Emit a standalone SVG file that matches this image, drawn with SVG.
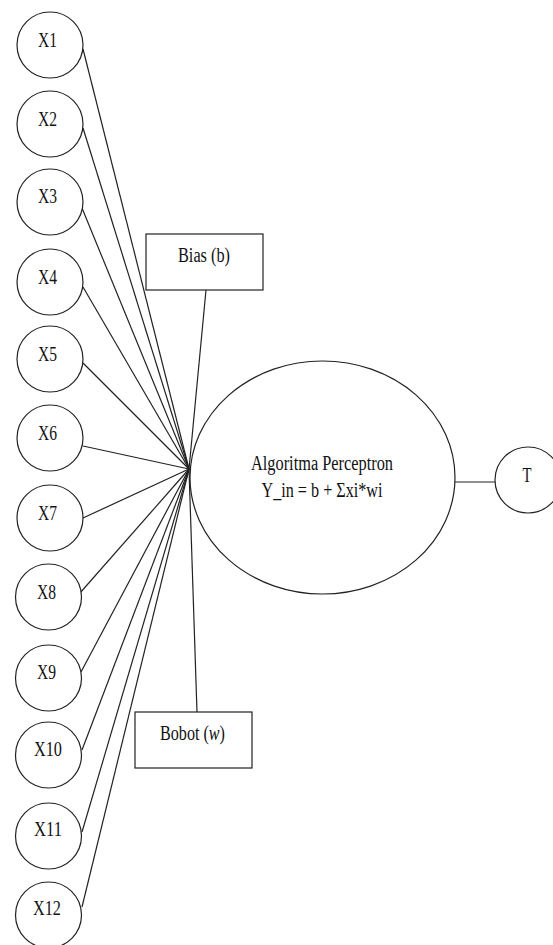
<svg xmlns="http://www.w3.org/2000/svg" width="553" height="945" viewBox="0 0 553 945">
<style>
.n{fill:#fff;stroke:#222;stroke-width:1.2}
.c{stroke:#222;stroke-width:1.2;fill:none}
text{font-family:"Liberation Serif","Times New Roman",serif;font-size:20px;fill:#111;text-anchor:middle}
</style>
<rect width="553" height="945" fill="#fff"/>
<g id="connectors">
<line class="c" x1="83" y1="49" x2="189" y2="469"/>
<line class="c" x1="83" y1="128" x2="189" y2="469"/>
<line class="c" x1="82" y1="208" x2="189" y2="469"/>
<line class="c" x1="83" y1="287" x2="189" y2="469"/>
<line class="c" x1="83" y1="363" x2="189" y2="469"/>
<line class="c" x1="83" y1="446" x2="189" y2="469"/>
<line class="c" x1="83" y1="518" x2="189" y2="469"/>
<line class="c" x1="80" y1="593" x2="189" y2="469"/>
<line class="c" x1="81" y1="672" x2="189" y2="469"/>
<line class="c" x1="82" y1="750" x2="189" y2="469"/>
<line class="c" x1="82" y1="832" x2="189" y2="469"/>
<line class="c" x1="82" y1="907" x2="189" y2="469"/>
<line class="c" x1="206" y1="290" x2="189" y2="469"/>
<line class="c" x1="197" y1="712" x2="189" y2="469"/>
<line class="c" x1="455" y1="482" x2="495" y2="482"/>
</g>
<g id="X1"><circle class="n" cx="50" cy="45" r="33"/><text x="47.5" y="47" textLength="19" lengthAdjust="spacingAndGlyphs">X1</text></g>
<g id="X2"><circle class="n" cx="50" cy="124" r="33"/><text x="47.5" y="126" textLength="19" lengthAdjust="spacingAndGlyphs">X2</text></g>
<g id="X3"><circle class="n" cx="50" cy="202" r="33"/><text x="47.5" y="203" textLength="19" lengthAdjust="spacingAndGlyphs">X3</text></g>
<g id="X4"><circle class="n" cx="50" cy="282" r="33"/><text x="47.5" y="284" textLength="19" lengthAdjust="spacingAndGlyphs">X4</text></g>
<g id="X5"><circle class="n" cx="50" cy="359" r="33"/><text x="47.5" y="361" textLength="19" lengthAdjust="spacingAndGlyphs">X5</text></g>
<g id="X6"><circle class="n" cx="50" cy="438" r="33"/><text x="47.5" y="440" textLength="19" lengthAdjust="spacingAndGlyphs">X6</text></g>
<g id="X7"><circle class="n" cx="50" cy="518" r="33"/><text x="47.5" y="520" textLength="19" lengthAdjust="spacingAndGlyphs">X7</text></g>
<g id="X8"><circle class="n" cx="48.5" cy="597" r="33"/><text x="46.5" y="599" textLength="19" lengthAdjust="spacingAndGlyphs">X8</text></g>
<g id="X9"><circle class="n" cx="48.5" cy="678" r="33"/><text x="46.5" y="679" textLength="19" lengthAdjust="spacingAndGlyphs">X9</text></g>
<g id="X10"><circle class="n" cx="48.5" cy="755" r="33"/><text x="48" y="756" textLength="28" lengthAdjust="spacingAndGlyphs">X10</text></g>
<g id="X11"><circle class="n" cx="48.5" cy="836" r="33"/><text x="48" y="836" textLength="28" lengthAdjust="spacingAndGlyphs">X11</text></g>
<g id="X12"><circle class="n" cx="48.5" cy="915" r="33"/><text x="47" y="915" textLength="28" lengthAdjust="spacingAndGlyphs">X12</text></g>
<g id="bias"><rect class="n" x="146" y="234" width="117" height="56"/><text x="204" y="262" textLength="52" lengthAdjust="spacingAndGlyphs">Bias (b)</text></g>
<g id="bobot"><rect class="n" x="135" y="712" width="117" height="56"/><text x="192.5" y="740" textLength="65" lengthAdjust="spacingAndGlyphs">Bobot (<tspan font-style="italic">w</tspan>)</text></g>
<g id="perceptron"><ellipse class="n" cx="322.5" cy="477.5" rx="132.5" ry="116.5"/>
<text x="322" y="470" textLength="142" lengthAdjust="spacingAndGlyphs">Algoritma Perceptron</text>
<text x="322" y="497" textLength="121" lengthAdjust="spacingAndGlyphs">Y_in = b + Σxi*wi</text></g>
<g id="T"><circle class="n" cx="528" cy="480" r="33"/><text x="527" y="482" textLength="9" lengthAdjust="spacingAndGlyphs">T</text></g>
</svg>
